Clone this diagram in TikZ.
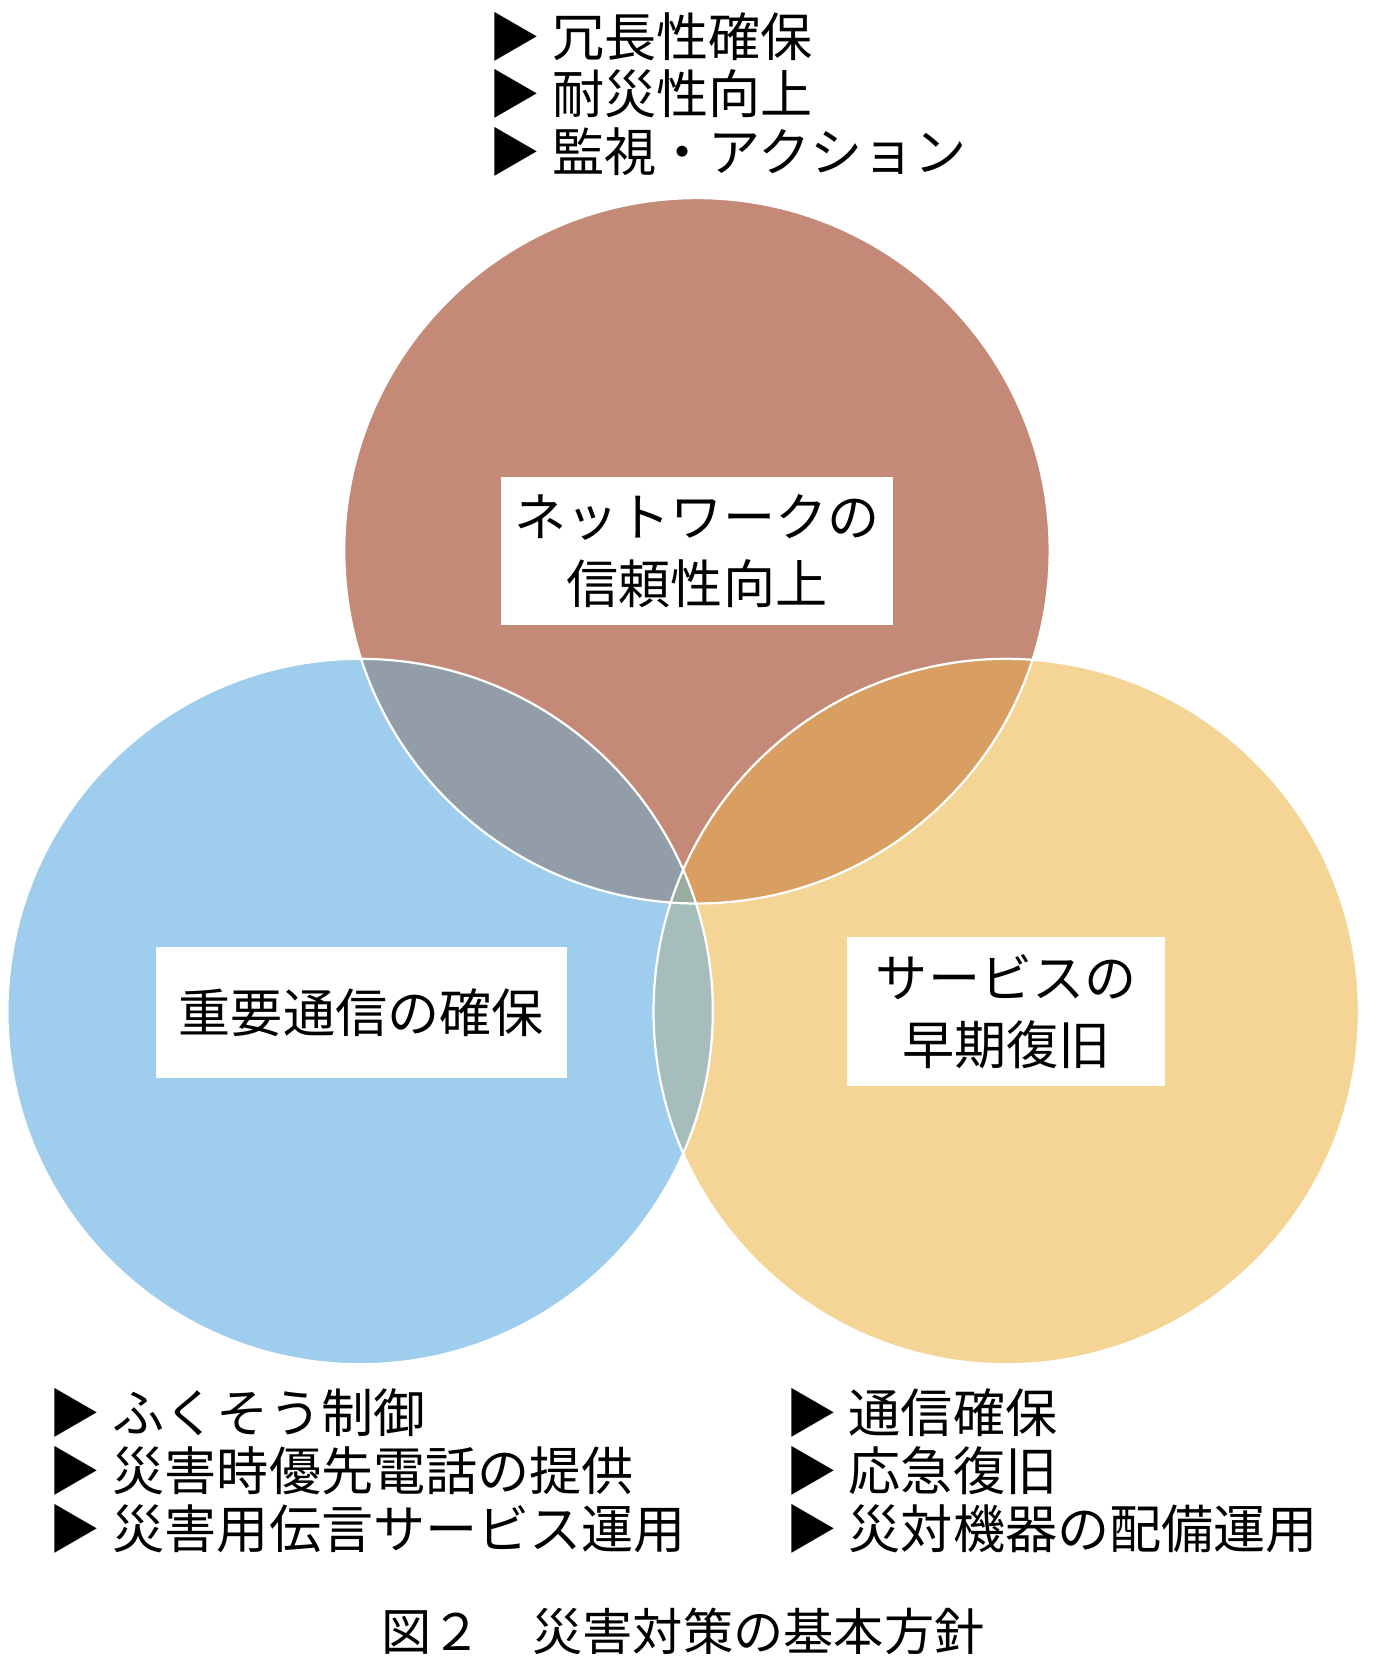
\documentclass[tikz,border=0pt]{standalone}
\usepackage{fontspec}
\setmainfont{Noto Sans CJK JP}
\usetikzlibrary{positioning}
\definecolor{topred}{HTML}{C48A77}
\definecolor{leftblue}{HTML}{9FCDED}
\definecolor{rightyel}{HTML}{F5D595}
\definecolor{tlmix}{HTML}{929DA8}
\definecolor{trmix}{HTML}{D89E62}
\definecolor{lrmix}{HTML}{A5BEBC}
\definecolor{allmix}{HTML}{9AAB9F}
\tikzset{
    labelbox/.style={fill=white, align=center, font=\fontsize{28}{36}\selectfont, inner sep=0pt},
    bullets/.style={anchor=north west, align=left, font=\fontsize{28}{31}\selectfont},
}
\begin{document}
\begin{tikzpicture}[x=0.02cm, y=-0.02cm]
    \useasboundingbox (0,0) rectangle (1300,1571);
    %% Circles
    \def\ctop{(658,520) circle (333)}
    \def\cleft{(340,955) circle (333)}
    \def\cright{(950,955) circle (333)}
    \fill[topred] \ctop;
    \fill[leftblue] \cleft;
    \fill[rightyel] \cright;
    \begin{scope}
        \clip \ctop;
        \fill[tlmix] \cleft;
        \fill[trmix] \cright;
    \end{scope}
    \begin{scope}
        \clip \cleft;
        \fill[lrmix] \cright;
        \clip \cright;
        \fill[allmix] \ctop;
    \end{scope}
    \draw[white, line width=1.2pt] \ctop \cleft \cright;

    %% Labels
    \node[labelbox, minimum width=7.4cm, minimum height=2.8cm] (nettop) at (658,520) {ネットワークの\\信頼性向上};
    \node[labelbox, minimum width=7.76cm, minimum height=2.46cm] (netleft) at (341,956) {重要通信の確保};
    \node[labelbox, minimum width=6cm, minimum height=2.8cm] (netright) at (950,955) {サービスの\\早期復旧};

    %% Bullet lists
    \node[bullets] (listtop) at (455,5) {▶ 冗長性確保\\▶ 耐災性向上\\▶ 監視・アクション};
    \node[bullets] (listleft) at (40,1305) {▶ ふくそう制御\\▶ 災害時優先電話の提供\\▶ 災害用伝言サービス運用};
    \node[bullets] (listright) at (735,1305) {▶ 通信確保\\▶ 応急復旧\\▶ 災対機器の配備運用};

    %% Caption
    \node[font=\fontsize{27}{30}\selectfont] (caption) at (645,1540) {図２　災害対策の基本方針};
\end{tikzpicture}
\end{document}
